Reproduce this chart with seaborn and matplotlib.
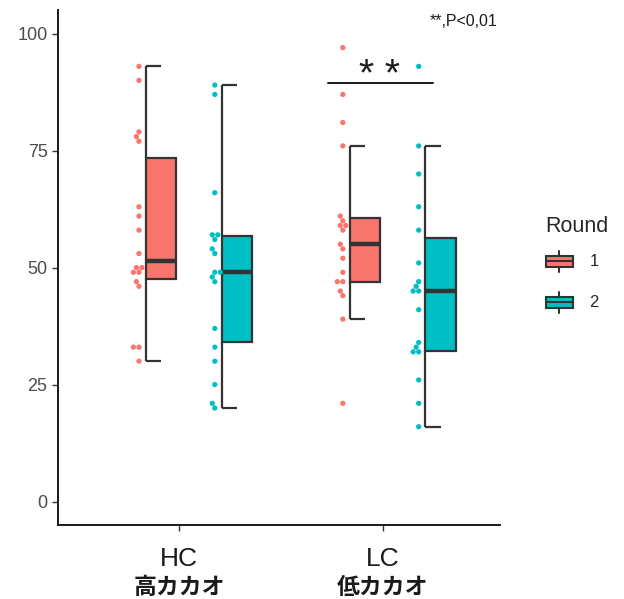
import numpy as np
import pandas as pd
import matplotlib
matplotlib.use("Agg")
import matplotlib.pyplot as plt
import seaborn as sns
from matplotlib.legend_handler import HandlerBase
from matplotlib.patches import Patch, Rectangle
from matplotlib.lines import Line2D

# scores
hc_r1 = [93, 90, 79, 78, 77, 63, 61, 58, 53, 50, 50, 49, 49, 47, 46, 33, 33, 30]
hc_r2 = [89, 87, 66, 57, 57, 56, 54, 53, 49, 49, 48, 47, 37, 33, 30, 25, 21, 20]
lc_r1 = [97, 87, 81, 76, 61, 60, 59, 59, 58, 55, 54, 52, 49, 47, 47, 45, 44, 39, 21]
lc_r2 = [93, 76, 70, 63, 58, 51, 47, 46, 45, 45, 41, 34, 33, 32, 32, 26, 21, 16]

groups = ["HC", "LC"]
groups_ja = ["高カカオ", "低カカオ"]
rounds = ["1", "2"]
colors = {"1": "#F8766D", "2": "#00BFC4"}
edge = "#333333"

# layout: boxes nudged right, points nudged left
box_off = {"1": -0.088, "2": 0.284}
pt_off = {"1": -0.196, "2": 0.176}
box_w = 0.15

series = {("HC", "1"): hc_r1, ("HC", "2"): hc_r2,
          ("LC", "1"): lc_r1, ("LC", "2"): lc_r2}
rows = []
for gi, g in enumerate(groups):
    for r in rounds:
        for v in series[(g, r)]:
            rows.append({"group": g, "Round": r, "value": v,
                         "bpos": gi + box_off[r], "ppos": gi + pt_off[r]})
df = pd.DataFrame(rows)

sns.set_style("ticks")
plt.rcParams["font.family"] = ["Liberation Sans", "Noto Sans CJK JP"]

fig, ax = plt.subplots(figsize=(6.24, 5.99), dpi=100)
fig.subplots_adjust(left=0.093, right=0.801, bottom=0.1235, top=0.983)

native = np.diff(np.unique(df["bpos"])).min()
sns.boxplot(data=df, x="bpos", y="value", hue="Round", hue_order=rounds,
            palette=colors, native_scale=True, dodge=False,
            width=box_w / native, showcaps=False, showfliers=False,
            saturation=1, linecolor=edge, linewidth=1.6,
            whiskerprops={"visible": False},
            medianprops={"linewidth": 3.2}, legend=False, ax=ax)

# whiskers drawn as "[" on the left edge of each box
for gi, g in enumerate(groups):
    for r in rounds:
        v = np.array(series[(g, r)])
        q1, q3 = np.percentile(v, [25, 75])
        iqr = q3 - q1
        lo = v[v >= q1 - 1.5 * iqr].min()
        hi = v[v <= q3 + 1.5 * iqr].max()
        xc = gi + box_off[r]
        xl = xc - box_w / 2
        ax.vlines(xl, lo, q1, color=edge, lw=1.6)
        ax.vlines(xl, q3, hi, color=edge, lw=1.6)
        ax.hlines([lo, hi], xl, xc, color=edge, lw=1.6)

sns.swarmplot(data=df, x="ppos", y="value", hue="Round", hue_order=rounds,
              palette=colors, native_scale=True, dodge=False, size=3.8,
              legend=False, ax=ax)

ax.set_xlim(-0.593, 1.574)
ax.set_ylim(-5, 105)
ax.set_yticks([0, 25, 50, 75, 100])
ax.set_xticks([0, 1], groups)
ax.set_xlabel("")
ax.set_ylabel("")
ax.tick_params(axis="y", labelsize=13, labelcolor="#4D4D4D", length=4,
               width=1, color=edge)
ax.tick_params(axis="x", labelsize=19, labelcolor="#1a1a1a", length=4,
               width=1, color=edge, pad=11.5)
for s in ["left", "bottom"]:
    ax.spines[s].set_linewidth(1.4)
    ax.spines[s].set_color("#1a1a1a")
sns.despine(ax=ax)

for gi, ja in enumerate(groups_ja):
    ax.text(gi, -0.121, ja, transform=ax.get_xaxis_transform(),
            ha="center", va="center", fontsize=16.5, fontweight="bold",
            family="Noto Sans CJK JP", color="#1a1a1a")

# significance bar over LC
ax.plot([0.730, 1.245], [89.4, 89.4], color="#1a1a1a", lw=1.4)
ax.text(0.985, 88.8, "* *", ha="center", va="baseline", fontsize=28,
        color="#1a1a1a")
fig.text(0.797, 0.957, "**,P<0,01", ha="right", va="baseline",
         fontsize=11.5, color="#1a1a1a")


class BoxKey(HandlerBase):
    # ggplot-like boxplot key, sizes in points
    def create_artists(self, legend, orig_handle, xdescent, ydescent,
                       width, height, fontsize, trans):
        x0, y0 = -xdescent, -ydescent
        yc = y0 + height / 2
        bh, wh = 8.2, 15.5
        xc = x0 + width / 2
        box = Rectangle((x0, yc - bh / 2), width, bh,
                        facecolor=orig_handle.get_facecolor(),
                        edgecolor=edge, lw=1.5, transform=trans)
        med = Line2D([x0, x0 + width], [yc, yc], color=edge,
                     lw=1.5, transform=trans)
        top = Line2D([xc, xc], [yc + bh / 2, yc + wh / 2], color=edge,
                     lw=1.5, transform=trans)
        bot = Line2D([xc, xc], [yc - wh / 2, yc - bh / 2], color=edge,
                     lw=1.5, transform=trans)
        return [box, med, top, bot]


handles = [Patch(facecolor=colors[r]) for r in rounds]
ax.legend(handles, rounds, title="Round", handler_map={Patch: BoxKey()},
          loc="center left", bbox_to_anchor=(0.861, 0.5535),
          bbox_transform=fig.transFigure, frameon=False, fontsize=12,
          title_fontsize=15.5, handlelength=1.62, handleheight=2.67,
          labelspacing=0.48, handletextpad=1.0, borderpad=0,
          alignment="left")

fig.savefig("out.png", dpi=100)
